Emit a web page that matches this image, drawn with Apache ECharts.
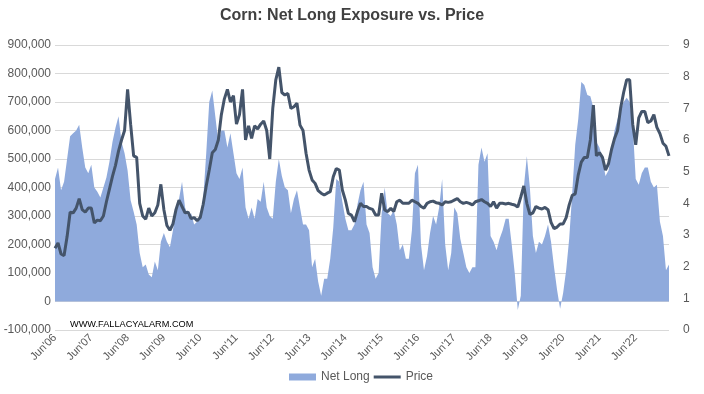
<!DOCTYPE html>
<html>
<head>
<meta charset="utf-8">
<script src="https://cdn.jsdelivr.net/npm/echarts@6/dist/echarts.min.js"></script>
<style>
html,body{margin:0;padding:0;background:#fff;}
#chart{width:704px;height:394px;}
</style>
</head>
<body>
<div id="chart"></div>
<script>
// Monthly categories, June 2006 .. May 2023
const startYear = 2006, startMonth = 5, monthCount = 204;
const monthNames = ['Jan','Feb','Mar','Apr','May','Jun','Jul','Aug','Sep','Oct','Nov','Dec'];
const categories = [];
for (let i = 0; i < monthCount; i++) {
  const mm = (startMonth + i) % 12;
  const yy = startYear + Math.floor((startMonth + i) / 12);
  categories.push(monthNames[mm] + "'" + String(yy).slice(2));
}

// Net long exposure (contracts, in thousands), one value per month
const netLongK = [
  430,470,390,420,500,580,590,600,620,540,470,450,
  480,400,385,365,400,435,490,560,610,650,560,520,
  460,355,315,270,170,120,130,95,85,140,110,210,
  240,210,190,250,330,360,420,330,300,310,270,280,
  300,360,520,700,740,650,560,600,600,540,590,520,
  450,430,470,330,290,330,290,360,350,420,330,300,
  290,420,500,440,400,390,310,360,390,330,270,270,
  250,120,150,70,20,80,80,150,260,430,420,350,
  290,250,250,270,340,390,420,270,240,120,80,100,
  310,400,310,300,320,270,180,200,150,150,250,450,
  480,200,110,160,240,300,270,330,430,200,110,170,
  330,310,220,170,120,100,120,120,480,540,490,520,
  230,210,180,220,250,290,290,200,100,-30,20,400,
  510,400,230,170,210,200,230,270,210,120,40,-25,
  30,110,220,380,550,640,770,760,725,720,680,560,
  540,500,440,460,530,600,640,670,700,715,700,620,
  430,410,450,470,470,420,400,410,280,230,110,130
];

// Corn price ($/bu), one value per month
const price = [
  2.58,2.75,2.4,2.35,2.95,3.72,3.7,3.85,4.15,3.8,3.72,3.85,
  3.85,3.38,3.47,3.45,3.6,4.05,4.45,4.85,5.2,5.65,6.0,6.3,
  7.6,6.5,5.5,5.45,4.0,3.6,3.5,3.85,3.6,3.7,3.95,4.6,
  3.8,3.3,3.15,3.35,3.8,4.1,3.9,3.7,3.72,3.52,3.55,3.45,
  3.55,3.97,4.55,5.05,5.6,5.7,6.0,6.8,7.3,7.6,7.2,7.4,
  6.5,6.8,7.6,6.0,6.45,6.05,6.45,6.35,6.5,6.6,6.3,5.4,
  7.0,7.9,8.3,7.5,7.42,7.47,7.0,7.05,7.16,6.47,6.3,5.58,
  5.05,4.74,4.63,4.4,4.32,4.26,4.32,4.37,4.84,5.1,5.05,4.42,
  4.1,3.68,3.63,3.42,3.74,4.0,3.9,3.9,3.84,3.81,3.63,3.63,
  4.32,3.79,3.74,3.84,3.74,4.05,4.1,4.0,4.0,4.0,4.1,4.05,
  4.0,3.9,3.85,4.0,4.05,4.07,4.02,4.0,3.95,4.05,4.03,4.05,
  4.1,4.15,4.05,4.0,4.03,4.0,3.95,4.05,4.08,4.12,4.05,4.0,
  3.9,4.05,3.85,4.0,4.0,3.98,4.0,3.97,3.95,3.88,4.2,4.55,
  4.0,3.65,3.7,3.9,3.85,3.82,3.87,3.8,3.4,3.2,3.25,3.35,
  3.35,3.55,3.95,4.25,4.3,4.9,5.3,5.45,5.45,6.0,7.1,5.5,
  5.6,5.45,5.05,5.25,5.7,6.05,6.3,7.0,7.5,7.9,7.9,6.5,
  5.85,6.7,6.9,6.9,6.55,6.6,6.8,6.4,6.2,5.9,5.8,5.5
];

// Axis ranges
const leftMin = -100, leftMax = 900, leftStep = 100;   // thousands
const rightMin = 0, rightMax = 9, rightStep = 1;

const FONT = 'Liberation Sans, Arial, sans-serif';
const chart = echarts.init(document.getElementById('chart'));
chart.setOption({
  animation: false,
  backgroundColor: '#ffffff',
  title: {
    text: 'Corn: Net Long Exposure vs. Price',
    left: 'center', top: 3,
    textStyle: { fontFamily: FONT, fontSize: 16, fontWeight: 'bold', color: '#404040' }
  },
  legend: {
    bottom: 6, left: 284, itemGap: 4, itemWidth: 27, itemHeight: 7,
    textStyle: { fontFamily: FONT, fontSize: 12, color: '#595959' },
    data: [
      { name: 'Net Long', icon: 'rect' },
      { name: 'Price', icon: 'path://M0,0h27v3h-27z' }
    ]
  },
  graphic: [{
    type: 'text', left: 70, top: 320,
    style: { text: 'WWW.FALLACYALARM.COM', font: '9.2px ' + FONT, fill: '#000000' }
  }],
  grid: { left: 55, right: 35, top: 45, bottom: 64, containLabel: false },
  xAxis: {
    type: 'category', data: categories, boundaryGap: false,
    axisLine: { show: false, onZero: false },
    axisTick: { show: false },
    axisLabel: {
      rotate: 45, margin: 6, fontFamily: FONT, fontSize: 11, color: '#595959',
      interval: function (i) { return i % 12 === 0; }
    },
    splitLine: { show: false }
  },
  yAxis: [{
    type: 'value', min: leftMin, max: leftMax, interval: leftStep,
    axisLine: { show: false }, axisTick: { show: false },
    axisLabel: {
      margin: 4, fontFamily: FONT, fontSize: 12, color: '#595959',
      formatter: function (v) { return v === 0 ? '0' : (v + ',000'); }
    },
    splitLine: { lineStyle: { color: '#d9d9d9', width: 1 } }
  }, {
    type: 'value', min: rightMin, max: rightMax, interval: rightStep,
    axisLine: { show: false }, axisTick: { show: false },
    axisLabel: { margin: 14, fontFamily: FONT, fontSize: 12, color: '#595959' },
    splitLine: { show: false }
  }],
  series: [{
    name: 'Net Long', type: 'line', yAxisIndex: 0, data: netLongK,
    symbol: 'none', lineStyle: { width: 0 },
    itemStyle: { color: '#8faadc' },
    areaStyle: { color: '#8faadc', opacity: 1 }
  }, {
    name: 'Price', type: 'line', yAxisIndex: 1, data: price,
    symbol: 'none',
    lineStyle: { width: 3, color: '#44546a' },
    itemStyle: { color: '#44546a' }
  }]
});
</script>
</body>
</html>
